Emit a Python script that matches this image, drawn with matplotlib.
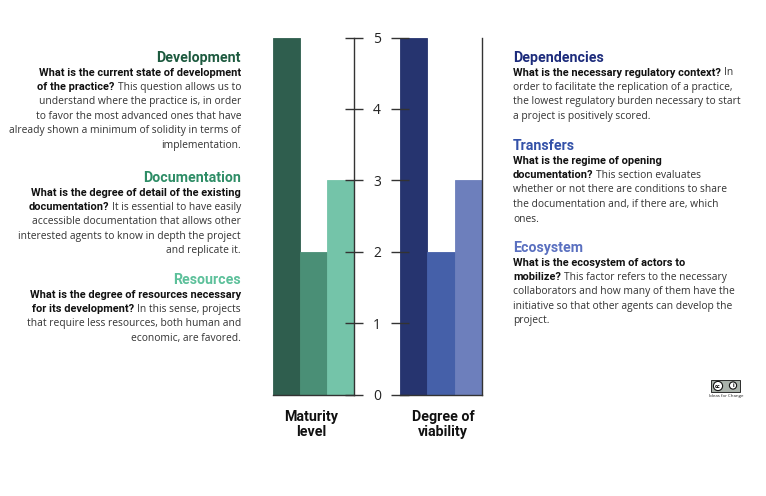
import matplotlib
matplotlib.use('Agg')
import matplotlib.pyplot as plt
from matplotlib.patches import FancyBboxPatch, Circle

plt.rcParams['font.family'] = ['Open Sans', 'DejaVu Sans']
BOLD_FONT = ['Roboto', 'DejaVu Sans']

W, H = 766, 496

# chart data
maturity_factors = ['Development', 'Documentation', 'Resources']
maturity_values = [5, 2, 3]
viability_factors = ['Dependencies', 'Transfers', 'Ecosystem']
viability_values = [5, 2, 3]
y_ticks = [0, 1, 2, 3, 4, 5]

green = ['#2f5e4e', '#4a8f76', '#74c4a9']
green_title = ['#1d5a3f', '#2e8d66', '#5cc09a']
blue = ['#26346f', '#4560a9', '#6d7fbc']
blue_title = ['#1d2c7c', '#3351a8', '#5a70c0']

# text blocks: (bold part, regular part) per line
maturity_text = [
    [("What is the current state of development", ""),
     ("of the practice?", "This question allows us to"),
     ("", "understand where the practice is, in order"),
     ("", "to favor the most advanced ones that have"),
     ("", "already shown a minimum of solidity in terms of"),
     ("", "implementation.")],
    [("What is the degree of detail of the existing", ""),
     ("documentation?", "It is essential to have easily"),
     ("", "accessible documentation that allows other"),
     ("", "interested agents to know in depth the project"),
     ("", "and replicate it.")],
    [("What is the degree of resources necessary", ""),
     ("for its development?", "In this sense, projects"),
     ("", "that require less resources, both human and"),
     ("", "economic, are favored.")],
]
viability_text = [
    [("What is the necessary regulatory context?", "In"),
     ("", "order to facilitate the replication of a practice,"),
     ("", "the lowest regulatory burden necessary to start"),
     ("", "a project is positively scored.")],
    [("What is the regime of opening", ""),
     ("documentation?", "This section evaluates"),
     ("", "whether or not there are conditions to share"),
     ("", "the documentation and, if there are, which"),
     ("", "ones.")],
    [("What is the ecosystem of actors to", ""),
     ("mobilize?", "This factor refers to the necessary"),
     ("", "collaborators and how many of them have the"),
     ("", "initiative so that other agents can develop the"),
     ("", "project.")],
]
left_title_y = [58, 178, 280]
right_title_y = [58, 146, 248]

fig = plt.figure(figsize=(W / 100, H / 100), dpi=100)
renderer = fig.canvas.get_renderer()


def fx(x):
    return x / W


def fy(y):
    return 1 - y / H


def bar_axes(x0, x1, values, colors, side):
    ax = fig.add_axes([fx(x0), fy(394.5), (x1 - x0) / W, 357 / H])
    ax.bar(range(len(values)), values, width=1.0, color=colors,
           edgecolor=[c for c in colors], linewidth=0.6)
    ax.set_xlim(-0.5, len(values) - 0.5)
    ax.set_ylim(0, 5)
    ax.set_xticks([])
    ax.set_yticks(y_ticks)
    for s in ['top', 'left', 'right']:
        ax.spines[s].set_visible(False)
    ax.spines['bottom'].set_color('#333333')
    ax.spines['bottom'].set_linewidth(1)
    ax.spines['right'].set_visible(True)
    ax.spines['right'].set_color('#333333')
    ax.spines['right'].set_linewidth(1)
    if side == 'right':
        ax.yaxis.tick_right()
        ax.tick_params(axis='y', direction='inout', length=12.5, width=1,
                       color='#333333', labelsize=10, pad=7.5,
                       labelcolor='#222222')
    else:
        ax.yaxis.tick_left()
        ax.tick_params(axis='y', direction='inout', length=12.5, width=1,
                       color='#333333', labelleft=False)
    ax.set_facecolor('none')
    return ax


ax1 = bar_axes(273, 354, maturity_values, green, 'right')
ax2 = bar_axes(400, 482, viability_values, blue, 'left')

for x, words in [(311, ['Maturity', 'level']), (443, ['Degree of', 'viability'])]:
    for y, w in zip([417, 432], words):
        fig.text(fx(x), fy(y), w, ha='center', va='center', family=BOLD_FONT,
                 fontsize=10.3, fontweight='bold', color='#111111')

BODY = 7.35
BOLD = 7.9
GAP = 3.0
LINE = 14.6
TITLE = 10.2


def block_right(x, y, title, color, lines):
    fig.text(fx(x), fy(y), title, ha='right', va='center', fontsize=TITLE,
             family=BOLD_FONT, fontweight='bold', color=color)
    for i, (b, n) in enumerate(lines):
        yy = y + LINE * (i + 1)
        edge = x
        if n:
            t = fig.text(fx(x), fy(yy), n, ha='right', va='center',
                         fontsize=BODY, color='#333333')
            edge = t.get_window_extent(renderer).x0 - GAP
        if b:
            fig.text(fx(edge), fy(yy), b, ha='right', va='center', family=BOLD_FONT,
                     fontsize=BOLD, fontweight='bold', color='#111111')


def block_left(x, y, title, color, lines):
    fig.text(fx(x), fy(y), title, ha='left', va='center', fontsize=TITLE,
             family=BOLD_FONT, fontweight='bold', color=color)
    for i, (b, n) in enumerate(lines):
        yy = y + LINE * (i + 1)
        edge = x
        if b:
            t = fig.text(fx(x), fy(yy), b, ha='left', va='center', family=BOLD_FONT,
                         fontsize=BOLD, fontweight='bold', color='#111111')
            edge = t.get_window_extent(renderer).x1 + GAP
        if n:
            fig.text(fx(edge), fy(yy), n, ha='left', va='center',
                     fontsize=BODY, color='#333333')


for name, c, ty, lines in zip(maturity_factors, green_title, left_title_y, maturity_text):
    block_right(241, ty, name, c, lines)
for name, c, ty, lines in zip(viability_factors, blue_title, right_title_y, viability_text):
    block_left(513, ty, name, c, lines)

# small licence badge
badge = fig.add_axes([fx(710), fy(400), 32 / W, 22 / H])
badge.set_xlim(0, 32)
badge.set_ylim(22, 0)
badge.axis('off')
badge.add_patch(FancyBboxPatch((1, 2), 29, 12, boxstyle='square,pad=0',
                               facecolor='#aab2ab', edgecolor='#111111', linewidth=0.6))
badge.add_patch(Circle((8, 8), 4.6, facecolor='white', edgecolor='#111111', linewidth=0.8))
badge.add_patch(Circle((23, 7.5), 3.6, facecolor='white', edgecolor='#111111', linewidth=0.8))
badge.text(8, 8.3, 'cc', ha='center', va='center', fontsize=4, fontweight='bold')
badge.text(23, 7.8, 'i', ha='center', va='center', fontsize=4, fontweight='bold')
badge.text(16, 18.5, 'Ideas for Change', ha='center', va='center', fontsize=3.2,
           color='#222222')

fig.savefig('out.png', dpi=100)
